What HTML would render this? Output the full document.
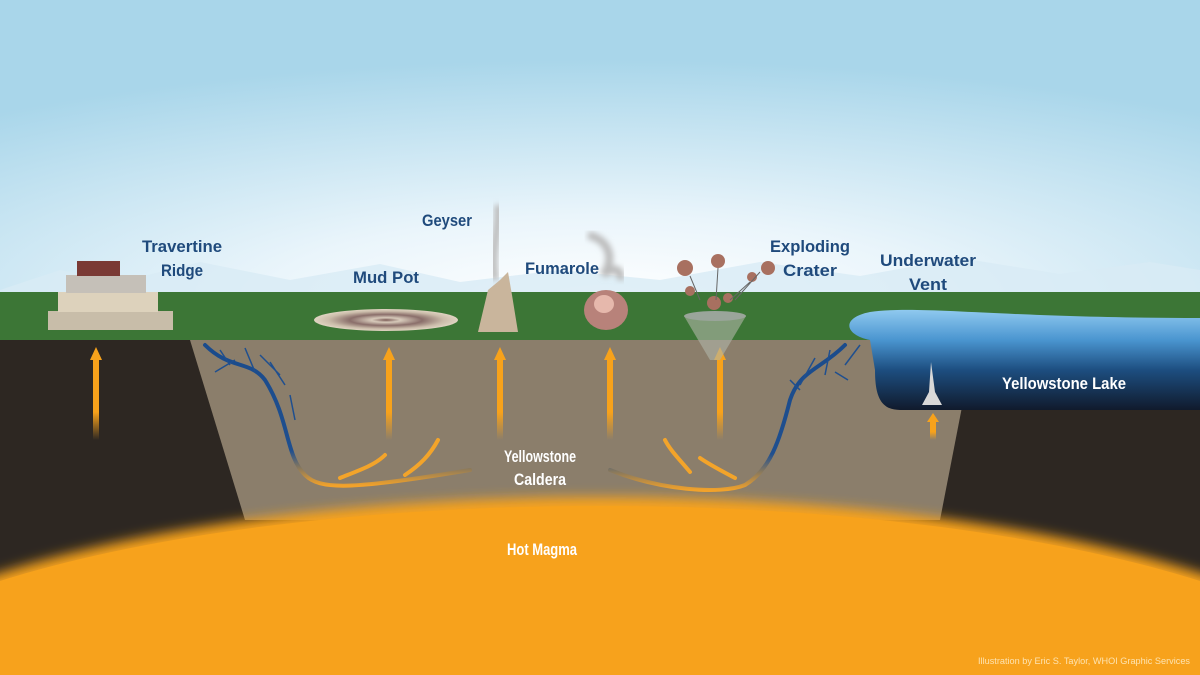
<!DOCTYPE html>
<html><head><meta charset="utf-8"><style>
html,body{margin:0;padding:0;width:1200px;height:675px;overflow:hidden;background:#fff}
svg{display:block}
.lb{font-family:"Liberation Sans Narrow","Liberation Sans",sans-serif;font-weight:bold;fill:#1f4a7c;font-size:17px;text-anchor:middle}
.wl{font-family:"Liberation Sans Narrow","Liberation Sans",sans-serif;font-weight:bold;fill:#fff;font-size:17px;text-anchor:middle}
</style></head><body>
<svg width="1200" height="675" viewBox="0 0 1200 675">
<defs>
<radialGradient id="sky" cx="0.5" cy="1" r="0.8">
<stop offset="0" stop-color="#ffffff"/><stop offset="0.35" stop-color="#eaf5fb"/><stop offset="1" stop-color="#a9d6ea"/>
</radialGradient>
<linearGradient id="arr" x1="0" y1="0" x2="0" y2="1">
<stop offset="0" stop-color="#f7a21b"/><stop offset="0.7" stop-color="#f7a21b"/><stop offset="1" stop-color="#f7a21b" stop-opacity="0"/>
</linearGradient>
<linearGradient id="lake" x1="0" y1="0" x2="0" y2="1">
<stop offset="0" stop-color="#8fc9ef"/><stop offset="0.3" stop-color="#4a95d0"/><stop offset="0.6" stop-color="#1d4e80"/><stop offset="1" stop-color="#101a2c"/>
</linearGradient>
<linearGradient id="vein" x1="0" y1="0" x2="0" y2="1">
<stop offset="0" stop-color="#1a4b8c"/><stop offset="0.75" stop-color="#1f4f8f"/><stop offset="1" stop-color="#f2a22a"/>
</linearGradient>
<filter id="blur"><feGaussianBlur stdDeviation="6"/></filter>
<filter id="b2"><feGaussianBlur stdDeviation="3"/></filter>
<radialGradient id="mud" cx="0.5" cy="0.5" r="0.5">
<stop offset="0" stop-color="#7a5a55"/><stop offset="0.2" stop-color="#d8cbbb"/><stop offset="0.5" stop-color="#8a6e6a"/><stop offset="0.8" stop-color="#cbbcaa"/><stop offset="1" stop-color="#e0d4c2"/>
</radialGradient>
</defs>
<rect width="1200" height="300" fill="url(#sky)"/>
<path d="M0 290 L60 270 L120 282 L200 262 L290 280 L380 264 L460 282 L560 270 L660 280 L760 262 L860 276 L960 258 L1060 274 L1150 262 L1200 270 L1200 295 L0 295Z" fill="#d8ebf5" opacity="0.8"/>
<rect y="292" width="1200" height="50" fill="#3c7636"/>
<rect y="340" width="1200" height="335" fill="#2d2722"/>
<polygon points="190,340 975,340 940,520 245,520" fill="#8b7e6b"/>
<g filter="url(#blur)">
<ellipse cx="600" cy="722" rx="800" ry="225" fill="#f6a21d"/>
</g>
<ellipse cx="600" cy="724" rx="795" ry="218" fill="#f7a21c"/>
<path d="M870 340 C845 335 840 318 870 312 C920 305 1000 318 1200 318 L1200 410 L900 410 C880 410 875 395 875 370 Z" fill="url(#lake)"/>
<g fill="url(#arr)">
<path d="M90 360 L96 347 L102 360 L99 360 L99 440 L93 440 L93 360Z"/>
<path d="M383 360 L389 347 L395 360 L392 360 L392 440 L386 440 L386 360Z"/>
<path d="M494 360 L500 347 L506 360 L503 360 L503 440 L497 440 L497 360Z"/>
<path d="M604 360 L610 347 L616 360 L613 360 L613 440 L607 440 L607 360Z"/>
<path d="M714 360 L720 347 L726 360 L723 360 L723 440 L717 440 L717 360Z"/>
<path d="M927 422 L933 413 L939 422 L936 422 L936 440 L930 440 L930 422Z"/>
</g>
<g fill="none" stroke="url(#vein)" stroke-width="4" stroke-linecap="round">
<path d="M205 345 C230 370 250 360 265 380 C290 420 285 455 305 475 C320 490 350 490 470 470"/>
<path d="M845 345 C820 370 800 370 790 400 C780 440 770 470 745 485 C720 495 660 490 610 470"/>
</g>
<g fill="none" stroke="#1f4f8f" stroke-width="1.5">
<path d="M220 350 L230 365 M245 348 L255 372 M260 355 L280 375 M235 360 L215 372 M270 362 L285 385 M290 395 L295 420"/>
<path d="M860 345 L845 365 M830 350 L825 375 M815 358 L800 385 M835 372 L848 380 M800 390 L790 380"/>
</g>
<g fill="none" stroke="#f3a42a" stroke-width="4" stroke-linecap="round">
<path d="M340 478 C360 470 375 465 385 455"/><path d="M405 475 C420 465 430 455 438 440"/>
<path d="M690 472 C680 460 670 450 665 440"/><path d="M735 478 C720 470 710 465 700 458"/>
</g>
<rect x="48" y="311" width="125" height="19" fill="#c8bda9"/>
<rect x="58" y="292" width="100" height="20" fill="#ddd2bc"/>
<rect x="66" y="275" width="80" height="18" fill="#c5c0b8"/>
<rect x="77" y="261" width="43" height="15" fill="#7a3a35"/>
<ellipse cx="386" cy="320" rx="72" ry="11" fill="url(#mud)"/>
<path d="M478 332 L488 290 L500 280 L508 272 L512 295 L518 332Z" fill="#c9b59c"/>
<path d="M495 280 C490 250 500 230 498 205" stroke="#bdbdbd" stroke-width="8" fill="none" filter="url(#b2)"/>
<path d="M588 235 C610 240 615 260 603 275 C615 265 622 270 620 280" stroke="#bbb" stroke-width="8" fill="none" filter="url(#b2)"/>
<ellipse cx="606" cy="310" rx="22" ry="20" fill="#b8827a"/>
<ellipse cx="604" cy="304" rx="10" ry="9" fill="#e6b8ac"/>
<path d="M684 316 L746 316 L720 360 L710 360Z" fill="#b0b5a8" opacity="0.6"/>
<ellipse cx="715" cy="316" rx="31" ry="5" fill="#9aa59a"/>
<g fill="#a87060">
<circle cx="685" cy="268" r="8"/><circle cx="718" cy="261" r="7"/><circle cx="768" cy="268" r="7"/><circle cx="752" cy="277" r="5"/><circle cx="690" cy="291" r="5"/><circle cx="728" cy="298" r="5"/><circle cx="714" cy="303" r="7"/>
</g>
<g stroke="#666" stroke-width="1" fill="none"><path d="M690 276 L700 300 M718 268 L716 300 M760 272 L735 300 M750 282 L730 300"/></g>
<path d="M922 405 L929 392 L931 362 L935 392 L942 405Z" fill="#d8d8d8"/>
<text class="lb" x="182" y="252" textLength="80" lengthAdjust="spacingAndGlyphs">Travertine</text><text class="lb" x="182" y="276" textLength="42" lengthAdjust="spacingAndGlyphs">Ridge</text>
<text class="lb" x="386" y="283" textLength="66" lengthAdjust="spacingAndGlyphs">Mud Pot</text>
<text class="lb" x="447" y="226" textLength="50" lengthAdjust="spacingAndGlyphs">Geyser</text>
<text class="lb" x="562" y="274" textLength="74" lengthAdjust="spacingAndGlyphs">Fumarole</text>
<text class="lb" x="810" y="252" textLength="80" lengthAdjust="spacingAndGlyphs">Exploding</text><text class="lb" x="810" y="276" textLength="54" lengthAdjust="spacingAndGlyphs">Crater</text>
<text class="lb" x="928" y="266" textLength="96" lengthAdjust="spacingAndGlyphs">Underwater</text><text class="lb" x="928" y="290" textLength="38" lengthAdjust="spacingAndGlyphs">Vent</text>
<text class="wl" x="1064" y="389" textLength="124" lengthAdjust="spacingAndGlyphs">Yellowstone Lake</text>
<text class="wl" x="540" y="462" textLength="72" lengthAdjust="spacingAndGlyphs">Yellowstone</text><text class="wl" x="540" y="485" textLength="52" lengthAdjust="spacingAndGlyphs">Caldera</text>
<text class="wl" x="542" y="555" textLength="70" lengthAdjust="spacingAndGlyphs">Hot Magma</text>
<text x="1190" y="664" font-family="Liberation Sans Narrow,Liberation Sans,sans-serif" font-size="9" fill="#fde3b0" text-anchor="end" textLength="212" lengthAdjust="spacingAndGlyphs">Illustration by Eric S. Taylor, WHOI Graphic Services</text>
</svg>
</body></html>
